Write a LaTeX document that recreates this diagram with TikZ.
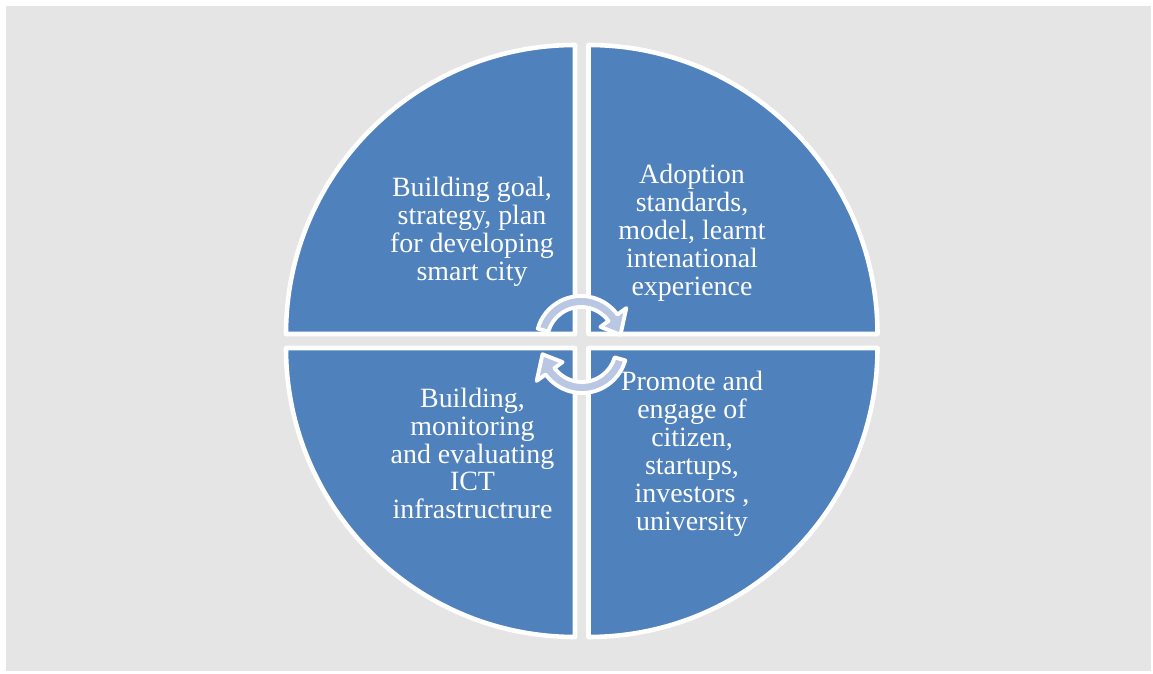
\documentclass[tikz,border=0pt]{standalone}
\usepackage{fontspec}
\setmainfont{Liberation Serif}
\usepackage{tikz}
\usetikzlibrary{
    positioning,
    calc
}
\definecolor{PanelGray}{RGB}{229,229,229}
\definecolor{QuadBlue}{RGB}{79,129,189}
\definecolor{ArrowBlue}{RGB}{185,199,227}

\begin{document}
\begin{tikzpicture}[
            x=0.02cm, y=0.02cm,
            quad/.style={fill=QuadBlue, draw=white, line width=2.6pt, line join=round},
            cycarrow/.style={fill=ArrowBlue, draw=white, line width=2.2pt, line join=round},
            label/.style={text=white, align=center, inner sep=0pt, font=\fontsize{15.9}{15.9}\selectfont},
        ]

        % ===== BACKGROUND =====
        \useasboundingbox (0,0) rectangle (1153,673);
        \fill[white] (0,0) rectangle (1153,673);
        \fill[PanelGray] (6,2) rectangle (1151,667);

        % ===== QUADRANTS =====
        \draw[quad] (575,339) -- ++(-289,0) arc[start angle=180, end angle=90, radius=289] -- cycle;
        \draw[quad] (588.5,339) -- ++(0,289) arc[start angle=90, end angle=0, radius=289] -- cycle;
        \draw[quad] (588.5,325) -- ++(289,0) arc[start angle=0, end angle=-90, radius=289] -- cycle;
        \draw[quad] (575,325) -- ++(0,-289) arc[start angle=270, end angle=180, radius=289] -- cycle;

        \node[label] (goal) at (472,441) {Building goal,\\strategy, plan\\for developing\\smart city};
        \node[label] (adopt) at (692,440.5) {Adoption\\standards,\\model, learnt\\intenational\\experience};
        \node[label] (ict) at (472.5,219.5) {Building,\\monitoring\\and evaluating\\ICT\\infrastructrure};
        \node[label] (engage) at (692,219.5) {Promote and\\engage of\\citizen,\\startups,\\investors ,\\university};

        % ===== CYCLE ARROWS =====
        \coordinate (upc) at (581,332);
        \coordinate (loc) at (582,325);

        \begin{scope}[shift={(upc)}]
            \draw[cycarrow] (164:45) arc[start angle=164, end angle=36, radius=45]
                -- (36:56) -- (9:40) -- (36:24)
                -- (36:34) arc[start angle=36, end angle=164, radius=34] -- cycle;
        \end{scope}
        \begin{scope}[shift={(loc)}]
            \draw[cycarrow] (-16:45) arc[start angle=-16, end angle=-144, radius=45]
                -- (-144:56) -- (-171:40) -- (-144:24)
                -- (-144:34) arc[start angle=-144, end angle=-16, radius=34] -- cycle;
        \end{scope}
        \end{tikzpicture}
\end{document}
